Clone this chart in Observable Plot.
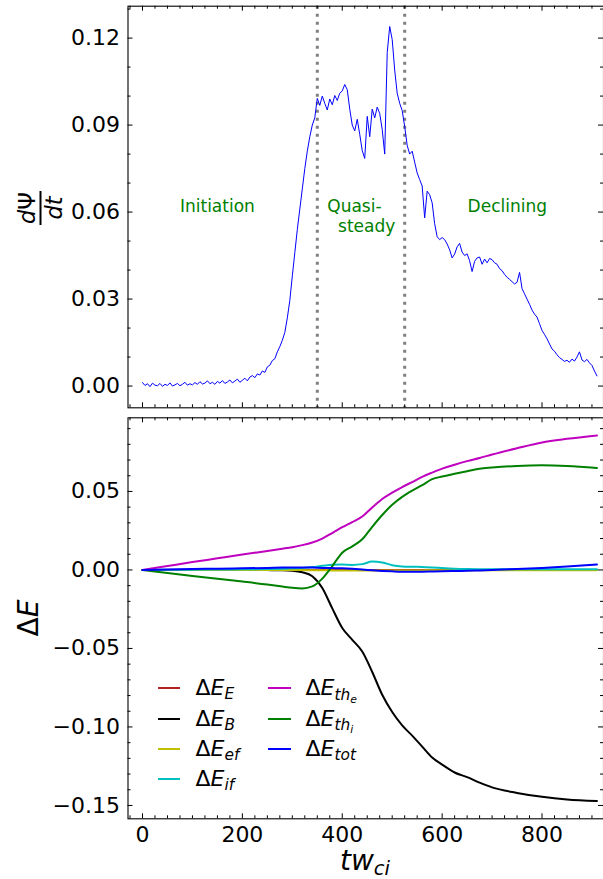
<!DOCTYPE html>
<html><head><meta charset="utf-8">
<script src="https://cdn.jsdelivr.net/npm/d3@7"></script>
<script src="https://cdn.jsdelivr.net/npm/@observablehq/plot@0.6"></script>
<style>
body{margin:0;background:#fff;}
#wrap{position:relative;width:603px;height:879px;font-family:"DejaVu Sans",sans-serif;overflow:hidden;background:#fff;}
#wrap svg{position:absolute;left:0;}
.lab{position:absolute;white-space:nowrap;color:#000;line-height:1;}
.lab sub{font-size:70%;vertical-align:-0.28em;line-height:1;}
</style></head><body><div id="wrap"></div>
<script>
// ---------- top panel data: dPsi/dt ----------
const time = d3.range(0, 911, 5);
const dPsiDt = [
 0.0012,0.0002,0.0008,-0.0002,0.0010,0.0003,0.0001,0.0009,-0.0001,0.0006,0.0002,0.0011,0.0000,0.0004,0.0009,0.0001,0.0006,0.0013,0.0003,0.0008,
 0.0004,0.0012,0.0006,0.0015,0.0007,0.0010,0.0018,0.0008,0.0013,0.0006,0.0016,0.0010,0.0019,0.0009,0.0014,0.0021,0.0011,0.0017,0.0024,0.0013,
 0.0020,0.0027,0.0018,0.0031,0.0036,0.0029,0.0042,0.0038,0.0052,0.0047,
 0.0066,0.0072,0.0088,0.0094,0.0118,0.0136,0.0158,0.0185,0.0235,0.0295,
 0.0380,0.0460,0.0540,0.0610,0.0680,0.0750,0.0810,0.0860,0.0900,0.0925,
 0.0992,0.0968,0.1000,0.0975,0.0952,0.0990,0.0970,0.1002,0.0985,0.1010,
 0.1018,0.1040,0.1022,0.0955,0.0900,0.0880,0.0920,0.0868,0.0812,0.0785,
 0.0930,0.0860,0.0955,0.0925,0.0962,0.0940,0.0885,0.0800,0.1150,0.1240,
 0.1195,0.1090,0.1010,0.0975,0.0950,0.0895,0.0830,0.0800,0.0810,0.0772,
 0.0735,0.0712,0.0690,0.0580,0.0672,0.0660,0.0632,0.0560,0.0515,0.0505,
 0.0512,0.0505,0.0490,0.0470,0.0442,0.0455,0.0480,0.0492,0.0462,0.0450,
 0.0456,0.0432,0.0395,0.0430,0.0442,0.0445,0.0420,0.0438,0.0425,0.0440,
 0.0436,0.0425,0.0420,0.0405,0.0398,0.0385,0.0375,0.0368,0.0360,0.0352,
 0.0358,0.0392,0.0336,0.0318,0.0300,0.0282,0.0262,0.0248,0.0238,0.0215,
 0.0192,0.0178,0.0163,0.0145,0.0128,0.0120,0.0108,0.0098,0.0092,0.0085,
 0.0089,0.0082,0.0093,0.0086,0.0100,0.0118,0.0090,0.0084,0.0092,0.0080,
 0.0071,0.0052,0.0035
];
const phaseBounds = [350, 525];
const phaseLabels = ["Initiation", "Declining"];
const phaseLabelX = [75, 651];
const quasiLabel = ["Quasi-\n\u00a0\u00a0steady"];
const quasiLabelX = [370];
const phaseLabelY = 0.06;

// ---------- bottom panel data: energy changes ----------
const tE = [0,50,100,150,200,250,280,300,320,340,360,380,400,420,440,460,480,500,520,540,560,580,600,625,650,675,700,750,800,850,910];
const dE_E   = [0,0,0,0,0,0,0,0,0,0,0,0,0,0,0,0,0,0,0,0,0,0,0,0,0,0,0,0,0,0,0];
const dE_B   = [0,0,0,0,0,-0.0001,-0.0002,-0.0005,-0.0015,-0.0040,-0.0115,-0.0245,-0.0370,-0.0445,-0.0520,-0.0650,-0.0795,-0.0905,-0.0990,-0.1055,-0.1125,-0.1195,-0.1240,-0.1290,-0.1320,-0.1355,-0.1385,-0.1420,-0.1445,-0.1462,-0.1472];
const dE_ef  = [0,0,0,0,0,0,0,-0.0001,-0.0001,-0.0002,-0.0002,-0.0003,-0.0003,-0.0003,-0.0003,-0.0003,-0.0003,-0.0003,-0.0003,-0.0003,-0.0003,-0.0002,-0.0002,-0.0002,-0.0002,-0.0002,-0.0002,-0.0002,-0.0002,-0.0002,-0.0002];
const dE_if  = [0,0.0001,0.0002,0.0003,0.0004,0.0006,0.0008,0.0010,0.0013,0.0018,0.0026,0.0033,0.0034,0.0032,0.0037,0.0053,0.0048,0.0030,0.0022,0.0020,0.0019,0.0016,0.0012,0.0008,0.0006,0.0005,0.0005,0.0005,0.0005,0.0005,0.0005];
const dE_the = [0,0.0025,0.0050,0.0074,0.0098,0.0121,0.0135,0.0145,0.0158,0.0175,0.0200,0.0235,0.0272,0.0305,0.0340,0.0398,0.0452,0.0492,0.0528,0.0560,0.0593,0.0620,0.0645,0.0670,0.0693,0.0713,0.0735,0.0775,0.0812,0.0835,0.0857];
const dE_thi = [0,-0.0019,-0.0038,-0.0056,-0.0074,-0.0093,-0.0106,-0.0114,-0.0118,-0.0105,-0.0055,0.0025,0.0110,0.0150,0.0195,0.0275,0.0350,0.0415,0.0465,0.0505,0.0540,0.0578,0.0595,0.0612,0.0628,0.0645,0.0652,0.0662,0.0666,0.0662,0.0650];
const dE_tot = [0,0.0003,0.0006,0.0008,0.0010,0.0013,0.0015,0.0016,0.0016,0.0015,0.0013,0.0012,0.0010,0.0007,0.0003,-0.0002,-0.0006,-0.0009,-0.0011,-0.0011,-0.0011,-0.0010,-0.0009,-0.0007,-0.0005,-0.0003,0.0000,0.0006,0.0013,0.0022,0.0035];
const seriesValues = [dE_E, dE_B, dE_ef, dE_if, dE_the, dE_thi, dE_tot];
const seriesSubs   = [["E"], ["B"], ["ef"], ["if"], ["th","e"], ["th","i"], ["tot"]];
const seriesColors = ["#b22222", "#000000", "#bfbf00", "#00bfbf", "#bf00bf", "#008000", "#0000ff"];

// ---------- tick labels ----------
const xTicks = [0, 200, 400, 600, 800];
const yTicksTop = [0, 0.03, 0.06, 0.09, 0.12];
const yTicksBottom = [-0.15, -0.10, -0.05, 0, 0.05];

// ---------- layout ----------
const W = 603;
const ML = 127.5, MR = 0;
const xDomain = [-29.03, 923.1];
const xMinor = d3.range(-25, 925, 25).filter(d => d % 200 !== 0);
const yMinorTop = d3.range(0, 14).filter(i => i % 3 !== 0).map(i => i / 100);
const yMinorBottom = d3.range(-15, 10).filter(i => i % 5 !== 0).map(i => i / 100);
const fmt = d3.format(".2f");
const style = {fontFamily: "DejaVu Sans, sans-serif", fontSize: "22px", background: "transparent", color: "#000", overflow: "visible"};

function frameTicks(yMaj, yMin, ph, pw) {
  const L = 5, l = 3, st = {stroke: "#000", strokeWidth: 1};
  return [
    Plot.ruleX(xTicks, {x: d => d, insetTop: ph - L, ...st}),
    Plot.ruleX(xTicks, {x: d => d, insetBottom: ph - L, ...st}),
    Plot.ruleX(xMinor, {x: d => d, insetTop: ph - l, ...st}),
    Plot.ruleX(xMinor, {x: d => d, insetBottom: ph - l, ...st}),
    Plot.ruleY(yMaj, {y: d => d, insetRight: pw - L, ...st}),
    Plot.ruleY(yMaj, {y: d => d, insetLeft: pw - L, ...st}),
    Plot.ruleY(yMin, {y: d => d, insetRight: pw - l, ...st}),
    Plot.ruleY(yMin, {y: d => d, insetLeft: pw - l, ...st})
  ];
}

// top panel
const topH = 412, topMT = 5.7, topMB = 4.7;
const topPlot = Plot.plot({
  width: W, height: topH, marginLeft: ML, marginRight: MR, marginTop: topMT, marginBottom: topMB,
  style,
  x: {domain: xDomain, axis: null},
  y: {domain: [-0.0075, 0.131], axis: null},
  marks: [
    Plot.ruleX(phaseBounds, {x: d => d, stroke: "#808080", strokeWidth: 3, strokeDasharray: "3,5"}),
    Plot.line(time, {x: d => d, y: (d, i) => dPsiDt[i], stroke: "#0000ff", strokeWidth: 1}),
    Plot.text(phaseLabels, {x: (d, i) => phaseLabelX[i], y: phaseLabelY, text: d => d, textAnchor: "start", lineAnchor: "bottom", fill: "#008000", fontSize: 17}),
    Plot.text(quasiLabel, {x: (d, i) => quasiLabelX[i], y: phaseLabelY, text: d => d, textAnchor: "start", lineAnchor: "bottom", lineHeight: 1.17, dy: 19.9, fill: "#008000", fontSize: 17}),
    Plot.text(yTicksTop, {y: d => d, frameAnchor: "left", textAnchor: "end", dx: -8, text: d => fmt(d), fontSize: 22, fill: "#000"}),
    ...frameTicks(yTicksTop, yMinorTop, topH - topMT - topMB, W - ML - MR),
    Plot.frame({stroke: "#000", strokeWidth: 1.1})
  ]
});

// bottom panel
const botH = 467, botMT = 5.3, botMB = 60.7;
const bottomPlot = Plot.plot({
  width: W, height: botH, marginLeft: ML, marginRight: MR, marginTop: botMT, marginBottom: botMB,
  style,
  x: {domain: xDomain, axis: null},
  y: {domain: [-0.1585, 0.0969], axis: null},
  marks: [
    ...seriesValues.map((vals, k) => Plot.line(tE, {x: d => d, y: (d, i) => vals[i], stroke: seriesColors[k], strokeWidth: 2, curve: "monotone-x"})),
    Plot.text(yTicksBottom, {y: d => d, frameAnchor: "left", textAnchor: "end", dx: -8, text: d => fmt(d), fontSize: 22, fill: "#000"}),
    Plot.text(xTicks, {x: d => d, frameAnchor: "bottom", lineAnchor: "top", dy: 8, text: d => String(d), fontSize: 22, fill: "#000"}),
    ...frameTicks(yTicksBottom, yMinorBottom, botH - botMT - botMB, W - ML - MR),
    Plot.frame({stroke: "#000", strokeWidth: 1.1})
  ]
});

const wrap = document.getElementById("wrap");
topPlot.style.top = "0px";
bottomPlot.style.top = topH + "px";
wrap.appendChild(topPlot);
wrap.appendChild(bottomPlot);

function addLab(html, css) {
  const d = document.createElement("div");
  d.className = "lab";
  d.innerHTML = html;
  d.style.cssText += css;
  wrap.appendChild(d);
  return d;
}
// axis labels
addLab('<div style="display:inline-flex;flex-direction:column;align-items:center;"><span style="border-bottom:2.2px solid #000;padding:0 1px 1px 1px;"><i>d</i>\u03a8</span><span style="padding-top:1px;"><i>dt</i></span></div>',
  "left:40px;top:208px;font-size:22.5px;transform:translate(-50%,-50%) rotate(-90deg);");
addLab('\u0394<i>E</i>', "left:28.8px;top:617.8px;font-size:28px;transform:translate(-50%,-50%) rotate(-90deg);");
addLab('<i>tw</i><sub><i>ci</i></sub>', "left:365px;top:847px;font-size:28px;transform:translateX(-50%);");

// legend
const legCols = [[0, 1, 2, 3], [4, 5, 6]];
const legLineX = [157.5, 268];
const legTextX = [195.5, 305.5];
const legRowY = [688, 718.5, 748.5, 778.5];
legCols.forEach((col, c) => col.forEach((k, r) => {
  const y = legRowY[r];
  const ln = document.createElement("div");
  ln.style.cssText = `position:absolute;left:${legLineX[c]}px;top:${y - 1}px;width:22.5px;height:2px;background:${seriesColors[k]};`;
  wrap.appendChild(ln);
  const s = seriesSubs[k];
  let sub = `<i>${s[0]}</i>`;
  if (s.length > 1) sub += `<sub><i>${s[1]}</i></sub>`;
  addLab(`\u0394<i>E</i><sub>${sub}</sub>`, `left:${legTextX[c]}px;top:${y - 10.6}px;font-size:22px;`);
}));
</script>
</body></html>
